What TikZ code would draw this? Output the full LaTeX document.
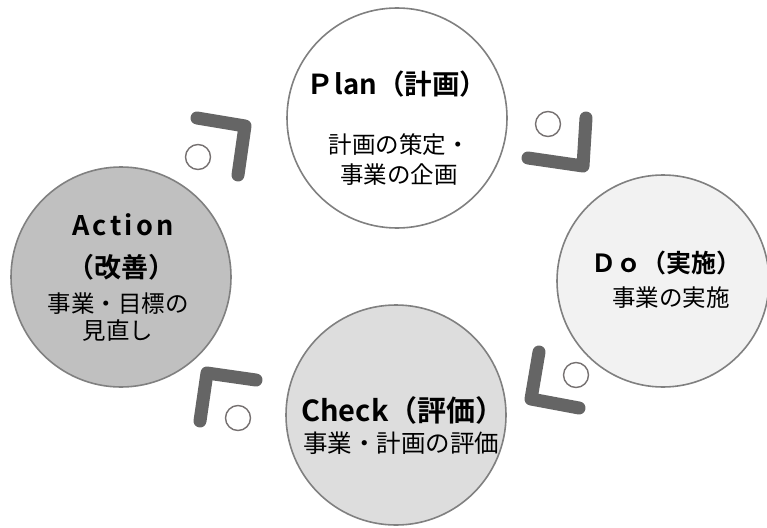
\documentclass[tikz,border=0pt]{standalone}
\usepackage{fontspec}
\setmainfont{Noto Sans CJK JP}[BoldFont={Noto Sans CJK JP Bold}]
\usepackage{tikz}
\usepackage{xcolor}
\definecolor{ringgray}{HTML}{808080}
\definecolor{bendgray}{HTML}{656565}
\definecolor{dotgray}{HTML}{767171}
\definecolor{dofill}{HTML}{F2F2F2}
\definecolor{checkfill}{HTML}{DDDDDD}
\definecolor{actfill}{HTML}{C0C0C0}

\begin{document}
\begin{tikzpicture}[x=1pt,y=-1pt,thick]
\tikzstyle{phase}=[circle,draw=ringgray,line width=1.6pt,minimum size=220pt,inner sep=0pt]
\tikzstyle{phasetitle}=[font=\fontsize{25}{28}\selectfont\bfseries,inner sep=0pt]
\tikzstyle{phasetext}=[font=\fontsize{23.5}{30}\selectfont,align=center,inner sep=0pt]
\tikzstyle{elbowbar}=[line width=13pt,line cap=round,line join=round,draw=bendgray]
\tikzstyle{smallring}=[circle,draw=dotgray,line width=1.4pt,fill=white,minimum size=25pt,inner sep=0pt]
  \useasboundingbox (0,0) rectangle (767,527);
  % bent arrows between the phases
  \draw[elbowbar](197,118)--(245,126)--(238,175);
  \draw[elbowbar](586,118)--(583,166)--(528,158);
  \draw[elbowbar](539,352)--(531,399)--(579,408);
  \draw[elbowbar](256,380)--(207,373)--(200,421);
  \node[smallring](ring-a) at (198,157){};
  \node[smallring](ring-p) at (548,124){};
  \node[smallring](ring-d) at (576,375){};
  \node[smallring](ring-c) at (238,418){};
  % the four phases
  \node[phase,fill=white](plan) at (397,118){};
  \node[phase,fill=dofill,minimum size=212pt](do) at (663,281){};
  \node[phase,fill=checkfill](check) at (396,415){};
  \node[phase,fill=actfill](act) at (121,277){};
  \node[phasetitle,font=\fontsize{27.5}{30}\selectfont\bfseries](plan-title) at (397,84){Ｐlan（計画）};
  \node[phasetext](plan-text) at (399,160){計画の策定・\\事業の企画};
  \node[phasetitle](do-title) at (666,263){Ｄｏ（実施）};
  \node[phasetext](do-text) at (671,298){事業の実施};
  \node[phasetitle,font=\fontsize{29}{32}\selectfont\bfseries](check-title) at (403,410){Check（評価）};
  \node[phasetext,font=\fontsize{24.5}{30}\selectfont](check-text) at (401,443){事業・計画の評価};
  \node[phasetitle,font=\fontsize{27}{30}\selectfont\bfseries\addfontfeature{LetterSpace=12}](act-title) at (123,225){Action};
  \node[phasetitle,font=\fontsize{27}{30}\selectfont\bfseries](act-sub) at (121,267){（改善）};
  \node[phasetext,font=\fontsize{23.5}{27}\selectfont](act-text) at (118,317){事業・目標の\\見直し};
\end{tikzpicture}
\end{document}
